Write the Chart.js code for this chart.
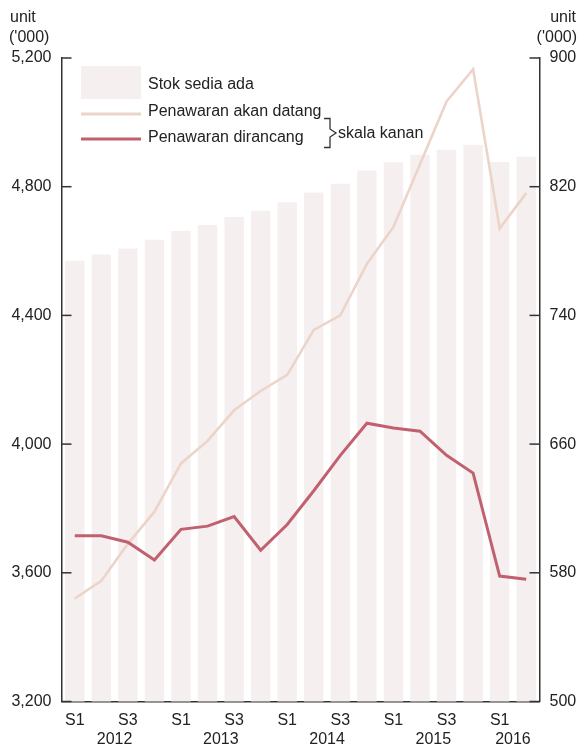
<!DOCTYPE html>
<html>
<head>
<meta charset="utf-8">
<script src="https://cdn.jsdelivr.net/npm/chart.js@4/dist/chart.umd.min.js"></script>
<style>
  body { margin: 0; background: #fff; }
</style>
</head>
<body>
<canvas id="js-stock-chart" width="577" height="751"></canvas>
<script>
const categories = ['2012 S1', '2012 S2', '2012 S3', '2012 S4', '2013 S1', '2013 S2', '2013 S3', '2013 S4', '2014 S1', '2014 S2', '2014 S3', '2014 S4', '2015 S1', '2015 S2', '2015 S3', '2015 S4', '2016 S1', '2016 S2'];
const xTickLabels = ['S1', '', 'S3', '', 'S1', '', 'S3', '', 'S1', '', 'S3', '', 'S1', '', 'S3', '', 'S1', ''];
const years = ['2012', '2013', '2014', '2015', '2016'];

const stokSediaAda = [4570, 4589, 4608, 4635, 4662, 4681, 4706, 4725, 4752, 4782, 4809, 4850, 4876, 4899, 4915, 4930, 4877, 4893];
const penawaranAkanDatang = [564, 575, 598, 618, 648, 662, 681, 693, 703, 731, 740, 772, 795, 834, 873, 893, 794, 816];
const penawaranDirancang = [603, 603, 599, 588, 607, 609, 615, 594, 610, 631, 653, 673, 670, 668, 653, 642, 578, 576];

const leftTicks = [3200, 3600, 4000, 4400, 4800, 5200];
const rightTicks = [500, 580, 660, 740, 820, 900];

const FONT = "'Liberation Sans', Arial, sans-serif";
const FONT_SIZE = 16;
const barColor = '#f6efef';
const lightLine = '#ecd4c9';
const darkLine = '#c1616f';
const axisColor = '#333';
const textColor = '#222';

// ticks on this chart point into the plot, so draw them by hand
const innerTicks = {
  id: 'innerTicks',
  afterDraw(chart) {
    const { ctx, chartArea, scales } = chart;
    ctx.save();
    ctx.strokeStyle = axisColor;
    ctx.lineWidth = 1.5;
    for (const v of leftTicks) {
      const y = scales.y.getPixelForValue(v);
      ctx.beginPath();
      ctx.moveTo(chartArea.left, y);
      ctx.lineTo(chartArea.left + 10, y);
      ctx.stroke();
    }
    for (const v of rightTicks) {
      const y = scales.y2.getPixelForValue(v);
      ctx.beginPath();
      ctx.moveTo(chartArea.right - 10, y);
      ctx.lineTo(chartArea.right, y);
      ctx.stroke();
    }
    ctx.restore();
  }
};

const extraText = {
  id: 'extraText',
  afterDraw(chart) {
    const { ctx, scales } = chart;
    ctx.save();
    ctx.fillStyle = textColor;
    ctx.font = FONT_SIZE + 'px ' + FONT;

    // year labels under the quarters
    ctx.textAlign = 'center';
    ctx.textBaseline = 'alphabetic';
    for (const yr of years) {
      const idx = categories.map((c, i) => c.startsWith(yr) ? i : -1).filter(i => i >= 0);
      const x = (scales.x.getPixelForValue(idx[0]) + scales.x.getPixelForValue(idx[idx.length - 1])) / 2;
      ctx.fillText(yr, x, 744);
    }

    // axis units
    ctx.textAlign = 'left';
    ctx.fillText('unit', 10, 22);
    ctx.fillText("('000)", 9, 42);
    ctx.textAlign = 'right';
    ctx.fillText('unit', 576, 22);
    ctx.fillText("('000)", 577, 42);

    // legend
    ctx.fillStyle = barColor;
    ctx.fillRect(81, 66, 60, 33);
    ctx.lineWidth = 3;
    ctx.strokeStyle = lightLine;
    ctx.beginPath();
    ctx.moveTo(81, 114);
    ctx.lineTo(141, 114);
    ctx.stroke();
    ctx.strokeStyle = darkLine;
    ctx.beginPath();
    ctx.moveTo(81, 139);
    ctx.lineTo(141, 139);
    ctx.stroke();

    ctx.fillStyle = textColor;
    ctx.textAlign = 'left';
    ctx.textBaseline = 'middle';
    ctx.fillText('Stok sedia ada', 148, 85);
    ctx.fillText('Penawaran akan datang', 148, 112);
    ctx.fillText('Penawaran dirancang', 148, 138);
    ctx.fillText('skala kanan', 338, 134);

    // brace
    ctx.strokeStyle = axisColor;
    ctx.lineWidth = 1.3;
    ctx.beginPath();
    ctx.moveTo(324, 118.5);
    ctx.lineTo(330, 118.5);
    ctx.lineTo(330, 129);
    ctx.lineTo(336, 133);
    ctx.lineTo(330, 137);
    ctx.lineTo(330, 147.5);
    ctx.lineTo(324, 147.5);
    ctx.stroke();
    ctx.restore();
  }
};

const stockData = {
  labels: categories,
  datasets: [
    {
      type: 'line',
      label: 'Penawaran dirancang',
      data: penawaranDirancang,
      yAxisID: 'y2',
      borderColor: darkLine,
      borderWidth: 3,
      pointRadius: 0,
      tension: 0,
      order: 0
    },
    {
      type: 'line',
      label: 'Penawaran akan datang',
      data: penawaranAkanDatang,
      yAxisID: 'y2',
      borderColor: lightLine,
      borderWidth: 2.6,
      pointRadius: 0,
      tension: 0,
      order: 1
    },
    {
      type: 'bar',
      label: 'Stok sedia ada',
      data: stokSediaAda,
      yAxisID: 'y',
      backgroundColor: barColor,
      borderWidth: 0,
      barPercentage: 0.73,
      categoryPercentage: 1,
      order: 2
    }
  ]
};

const stockConfig = {
  type: 'bar',
  data: stockData,
  options: {
    responsive: false,
    animation: false,
    layout: { padding: { top: 58, left: 0, right: 0, bottom: 0 } },
    scales: {
      x: {
        grid: { display: false, drawTicks: false },
        border: { display: true, color: axisColor, width: 1.5 },
        ticks: {
          autoSkip: false,
          maxRotation: 0,
          padding: 9,
          color: textColor,
          font: { family: FONT, size: FONT_SIZE },
          callback: (value, index) => xTickLabels[index]
        },
        afterFit: (scale) => { scale.height = 49.5; }
      },
      y: {
        position: 'left',
        min: 3200,
        max: 5200,
        grid: { display: false, drawTicks: false },
        border: { display: true, color: axisColor, width: 1.5 },
        ticks: {
          stepSize: 400,
          padding: 10,
          color: textColor,
          font: { family: FONT, size: FONT_SIZE },
          callback: (value) => value.toLocaleString('en-US')
        },
        afterFit: (scale) => { scale.width = 61.5; }
      },
      y2: {
        position: 'right',
        min: 500,
        max: 900,
        grid: { display: false, drawTicks: false },
        border: { display: true, color: axisColor, width: 1.5 },
        ticks: {
          stepSize: 80,
          padding: 10,
          color: textColor,
          font: { family: FONT, size: FONT_SIZE }
        },
        afterFit: (scale) => { scale.width = 37.5; }
      }
    },
    plugins: {
      legend: { display: false },
      tooltip: { enabled: false }
    }
  },
  plugins: [innerTicks, extraText]
};

new Chart(document.querySelector('#js-stock-chart'), stockConfig);
</script>
</body>
</html>
